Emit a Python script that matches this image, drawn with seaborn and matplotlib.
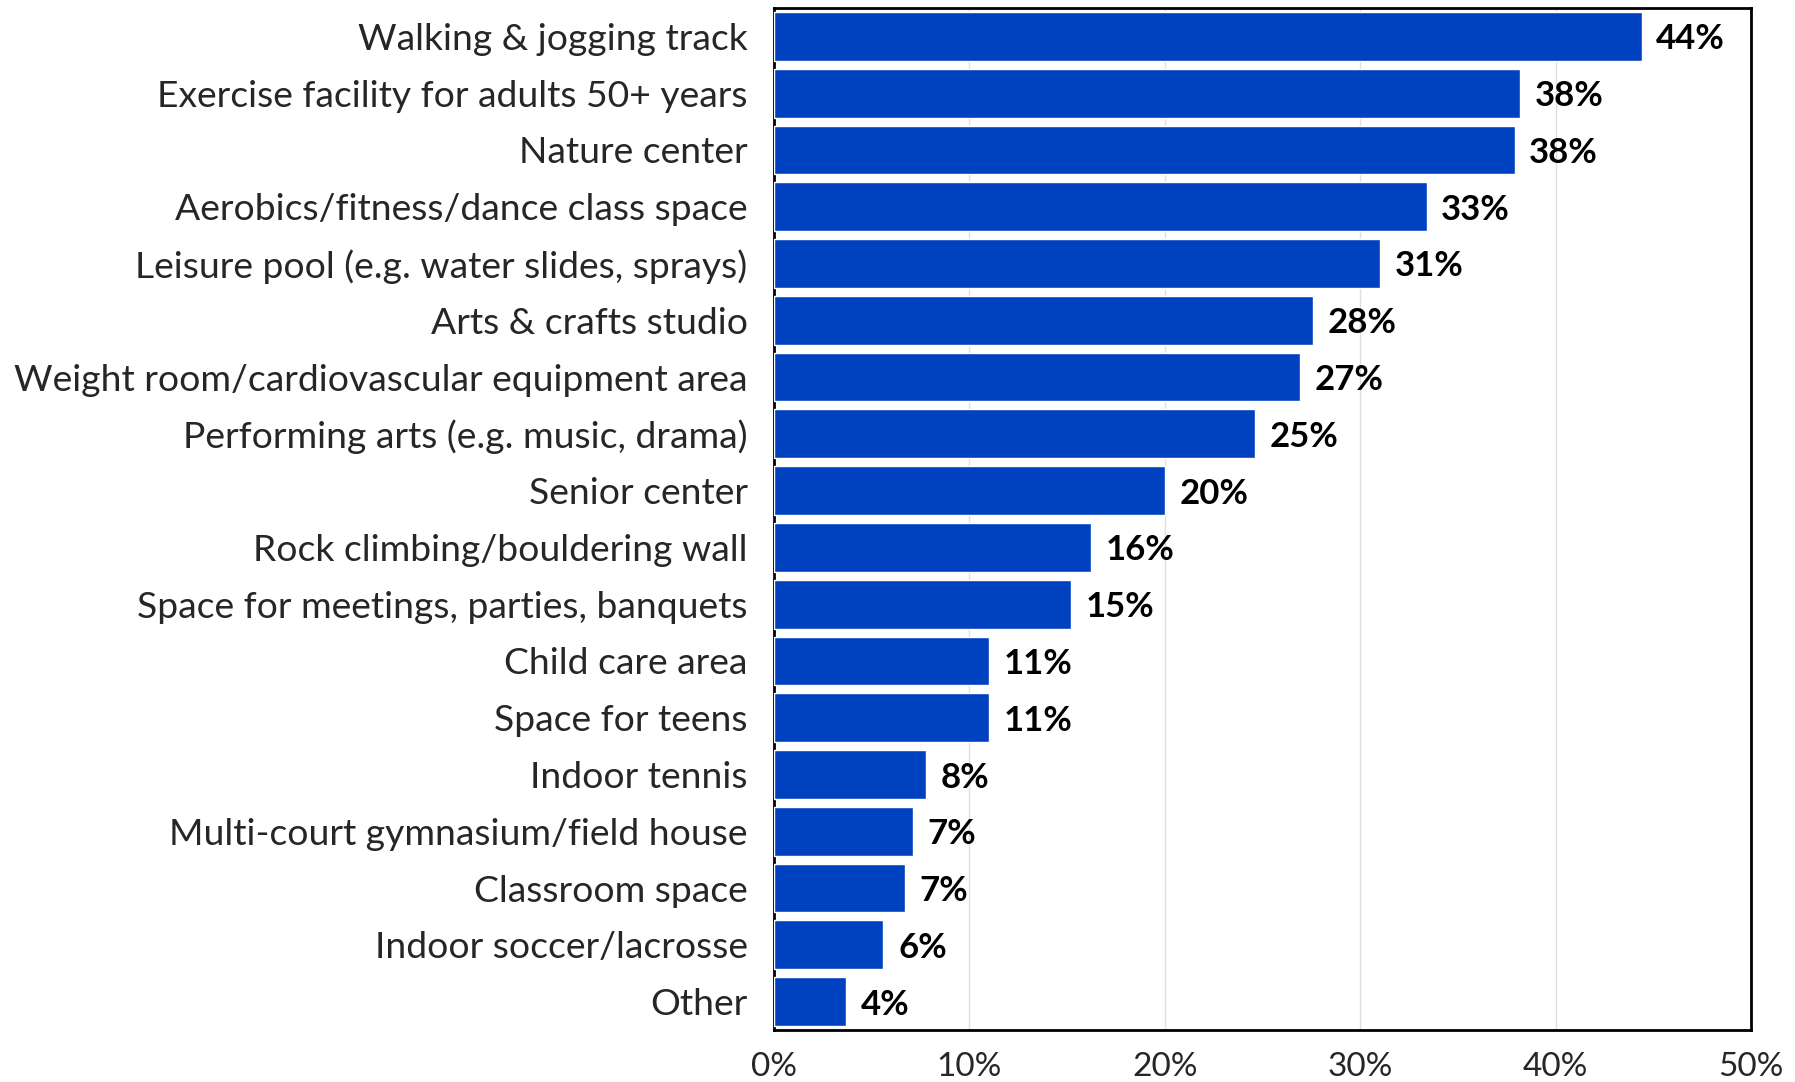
import matplotlib
matplotlib.use("Agg")
import matplotlib.pyplot as plt
import pandas as pd
import seaborn as sns
from matplotlib.ticker import FuncFormatter

categories = [
    "Walking & jogging track",
    "Exercise facility for adults 50+ years",
    "Nature center",
    "Aerobics/fitness/dance class space",
    "Leisure pool (e.g. water slides, sprays)",
    "Arts & crafts studio",
    "Weight room/cardiovascular equipment area",
    "Performing arts (e.g. music, drama)",
    "Senior center",
    "Rock climbing/bouldering wall",
    "Space for meetings, parties, banquets",
    "Child care area",
    "Space for teens",
    "Indoor tennis",
    "Multi-court gymnasium/field house",
    "Classroom space",
    "Indoor soccer/lacrosse",
    "Other",
]
values = [44.4, 38.2, 37.9, 33.4, 31.0, 27.6, 26.9, 24.6, 20.0, 16.2,
          15.2, 11.0, 11.0, 7.8, 7.1, 6.7, 5.6, 3.7]

df = pd.DataFrame({"facility": categories, "pct": values})

sns.set_theme(style="white")
plt.rcParams["font.family"] = ["Lato", "DejaVu Sans"]

fig = plt.figure(figsize=(17.95, 10.82), dpi=100)
ax = fig.add_axes([774 / 1795, 1 - 1030 / 1082, (1751 - 774) / 1795, (1030 - 8) / 1082])

sns.barplot(data=df, y="facility", x="pct", color="#0041C0", saturation=1,
            width=0.86, ax=ax, zorder=3)

ax.set_xlim(0, 50)
ax.set_xticks([0, 10, 20, 30, 40, 50])
ax.xaxis.set_major_formatter(FuncFormatter(lambda v, _: f"{v:.0f}%"))
ax.grid(axis="x", color="#E0E0E0", linewidth=1, zorder=0)
ax.set_axisbelow(True)
ax.set_xlabel("")
ax.set_ylabel("")
ax.tick_params(axis="x", labelsize=24, pad=16, length=0)
ax.tick_params(axis="y", labelsize=26.8, pad=19, length=0)
for s in ax.spines.values():
    s.set_visible(True)
    s.set_color("black")
    s.set_linewidth(2)

for i, v in enumerate(values):
    ax.text(v + 0.75, i, f"{v:.0f}%", va="center_baseline", ha="left",
            fontsize=25, fontweight="bold", color="black")

fig.savefig("out.png", dpi=100)
